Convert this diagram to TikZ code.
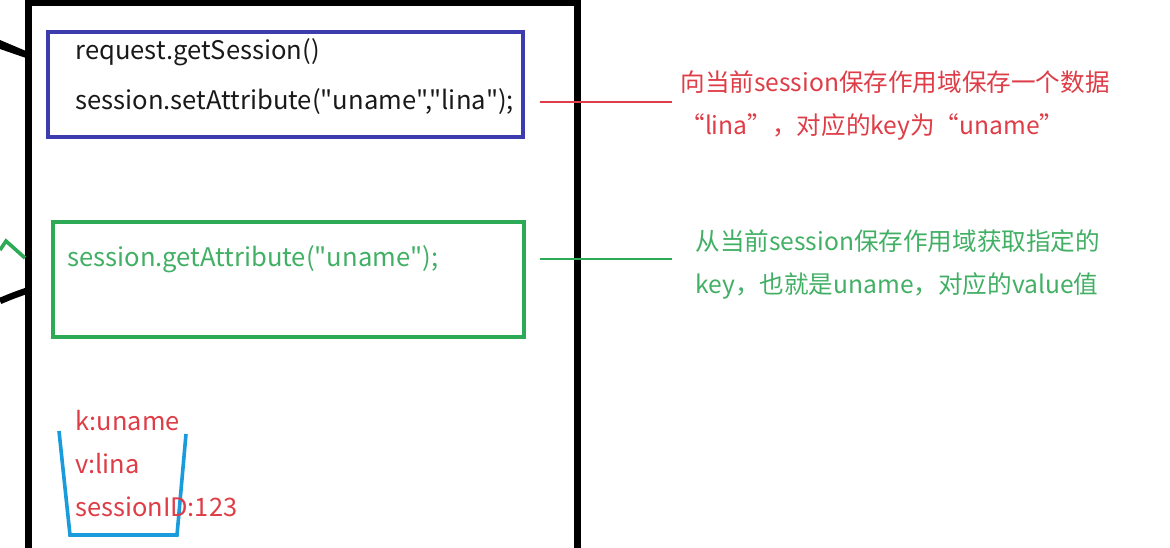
\documentclass[tikz,border=0pt]{standalone}
\usepackage{fontspec}
\setmainfont{Noto Sans CJK SC}[Ligatures=TeXOff]
\usetikzlibrary{positioning}
\definecolor{boxblue}{RGB}{60,60,175}
\definecolor{boxgreen}{RGB}{45,170,85}
\definecolor{notered}{RGB}{222,60,70}
\definecolor{notegreen}{RGB}{65,175,100}
\definecolor{bucketblue}{RGB}{25,155,220}
\definecolor{codegray}{RGB}{25,25,25}
\begin{document}
\begin{tikzpicture}[x=0.5pt, y=-0.5pt,
    codetext/.style={anchor=west, inner sep=0pt, font=\fontsize{12.8}{14}\selectfont},
    scopebox/.style={draw, line width=1.6pt, inner sep=0pt},
    notetext/.style={anchor=west, inner sep=0pt, align=left, font=\fontsize{12.3}{21.5}\selectfont},
    entrytext/.style={anchor=west, inner sep=0pt, align=left, font=\fontsize{12.7}{21.5}\selectfont},
    leader/.style={line width=0.6pt}]
    \useasboundingbox (0,0) rectangle (1170,547);
    % session frame
    \draw[line width=3.5pt] (28,560) -- (28,2) -- (577,2) -- (577,560);
    % incoming arrows, cut at the left edge
    \fill (0,40) -- (26,51) -- (26,58) -- (0,49) -- cycle;
    \draw[boxgreen, line width=1.8pt] (0,250) -- (6,241) -- (25,258);
    \draw[line width=3.2pt] (0,301) .. controls (12,296) .. (26,291);
    % store
    \node[scopebox, boxblue, minimum width=237.5pt, minimum height=52.5pt] (setbox) at (285.5,84.5) {};
    \node[codetext, codegray] (getsess) at (75,52) {request.getSession()};
    \node[codetext, codegray] (setcall) at (75,102) {session.setAttribute("uname","lina");};
    \node[notetext, notered] (setnote) at (680,105.5) {向当前session保存作用域保存一个数据\\“lina”，对应的key为“uname”};
    \draw[leader, notered] ([xshift=7.5pt]setbox.east |- setcall) -- ([xshift=-4pt]setnote.west |- setcall);
    % fetch
    \node[scopebox, boxgreen, minimum width=235.5pt, minimum height=57.5pt] (getbox) at (288.5,279.5) {};
    \node[codetext, notegreen] (getcall) at (67,259) {session.getAttribute("uname");};
    \node[notetext, notegreen] (getnote) at (695,264.5) {从当前session保存作用域获取指定的\\key，也就是uname，对应的value值};
    \draw[leader, boxgreen] ([xshift=7pt]getbox.east |- getcall) -- ([xshift=-11.5pt]getnote.west |- getcall);
    % bucket
    \draw[bucketblue, line width=1.8pt] (59,431) -- (70,535) -- (177,535) -- (186,434);
    \node[entrytext, notered] (entries) at (75,464) {k:uname\\v:lina\\sessionID:123};
\end{tikzpicture}
\end{document}
